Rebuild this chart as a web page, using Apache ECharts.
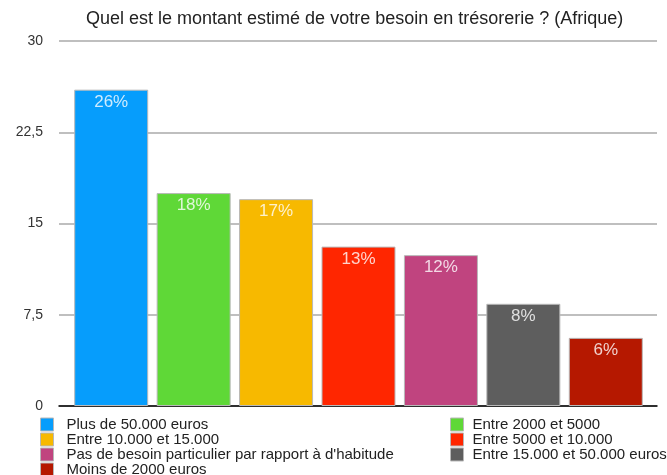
<!DOCTYPE html>
<html>
<head>
<meta charset="utf-8">
<script src="https://cdn.jsdelivr.net/npm/echarts@6/dist/echarts.min.js"></script>
<style>
  html, body { margin: 0; padding: 0; background: #fff; }
  #besoin { width: 667px; height: 475px; }
</style>
</head>
<body>
<div id="besoin"></div>
<script>
var categories = [
    'Plus de 50.000 euros',
    'Entre 2000 et 5000',
    'Entre 10.000 et 15.000',
    'Entre 5000 et 10.000',
    'Pas de besoin particulier par rapport à d\'habitude',
    'Entre 15.000 et 50.000 euros',
    'Moins de 2000 euros'
];
var values = [26, 17.5, 17, 13.1, 12.4, 8.4, 5.6];
var colors = ['#069dfc', '#5fd837', '#f7b900', '#ff2600', '#c0447f', '#5e5e5e', '#b51800'];
var yTicks = [0, 7.5, 15, 22.5, 30];

var font = 'Liberation Sans, Arial, sans-serif';
var chart = getChart('besoin');

var series = [];
for (var i = 0; i < categories.length; i++) {
    var data = [];
    for (var j = 0; j < categories.length; j++) {
        data.push(i === j ? values[i] : '-');
    }
    series.push({
        name: categories[i],
        type: 'bar',
        xAxisIndex: 1,
        yAxisIndex: 1,
        barWidth: 74,
        barGap: '-100%',
        itemStyle: {
            color: colors[i],
            borderColor: '#b8b8b8',
            borderWidth: 1
        },
        label: {
            show: true,
            position: 'insideTop',
            distance: 4,
            color: 'rgba(255,255,255,0.8)',
            fontSize: 17,
            fontFamily: font,
            formatter: function (p) {
                return Math.round(p.value) + '%';
            }
        },
        data: data
    });
}

function legendBlock(left, padLeft, names) {
    return {
        orient: 'vertical',
        left: left,
        top: 417,
        height: 62,
        padding: 0,
        itemWidth: 13,
        itemHeight: 13,
        itemGap: 0,
        icon: 'rect',
        itemStyle: { borderColor: '#b8b8b8', borderWidth: 1 },
        textStyle: {
            fontSize: 15,
            lineHeight: 15,
            color: '#222',
            padding: [0, 0, 0, padLeft],
            fontFamily: font
        },
        data: names
    };
}

var option = {
    backgroundColor: '#fff',
    animation: false,
    title: {
        text: 'Quel est le montant estimé de votre besoin en trésorerie ? (Afrique)',
        left: 86,
        top: 10,
        padding: 0,
        textStyle: {
            fontSize: 18,
            fontWeight: 'normal',
            color: '#222',
            fontFamily: font
        }
    },
    legend: [
        legendBlock(40, 8, [categories[0], categories[2], categories[4], categories[6]]),
        legendBlock(450, 4, [categories[1], categories[3], categories[5]])
    ],
    grid: [
        { left: 59, right: 10, top: 41, bottom: 69 },
        { left: 70, right: 20, top: 41, bottom: 69 }
    ],
    xAxis: [{
        gridIndex: 0,
        type: 'category',
        data: [''],
        axisLine: { lineStyle: { color: '#000', width: 1.5 } },
        axisTick: { show: false },
        axisLabel: { show: false }
    }, {
        gridIndex: 1,
        type: 'category',
        data: categories,
        show: false
    }],
    yAxis: [{
        gridIndex: 0,
        type: 'value',
        min: yTicks[0],
        max: yTicks[yTicks.length - 1],
        interval: 7.5,
        axisLine: { show: false },
        axisTick: { show: false },
        axisLabel: {
            margin: 16,
            fontSize: 14,
            color: '#333',
            fontFamily: font,
            formatter: function (v) {
                return String(v).replace('.', ',');
            }
        },
        splitLine: { lineStyle: { color: '#aaa', width: 1.5 } }
    }, {
        gridIndex: 1,
        type: 'value',
        min: yTicks[0],
        max: yTicks[yTicks.length - 1],
        show: false
    }],
    series: series
};

if (option && typeof option === "object") {
    chart.setOption(option, true);
}

function getChart(id) {
    var dom = document.getElementById(id);
    return echarts.init(dom);
}
</script>
</body>
</html>
